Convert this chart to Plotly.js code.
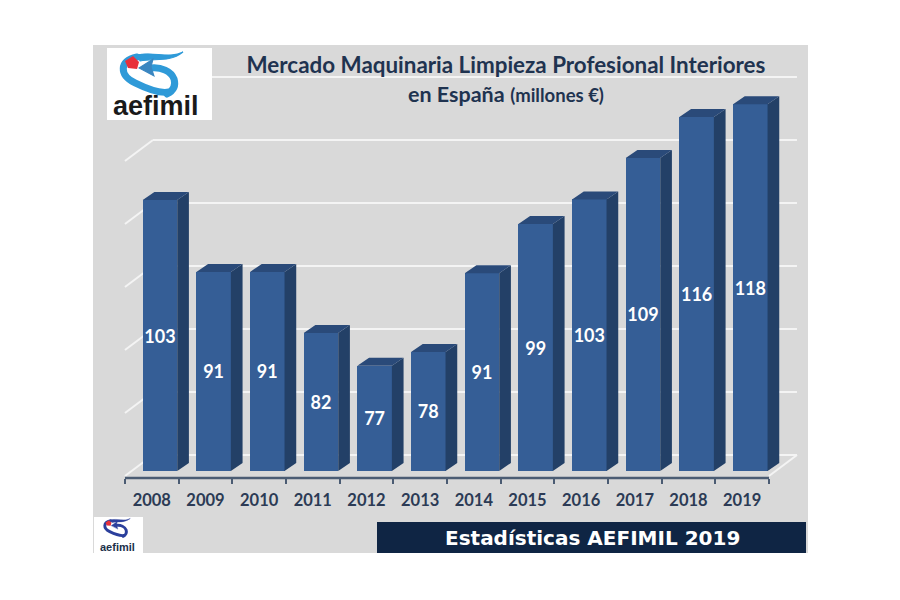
<!DOCTYPE html>
<html>
<head>
<meta charset="utf-8">
<script src="https://cdn.plot.ly/plotly-3.0.1.min.js"></script>
<style>html,body{margin:0;padding:0;background:#fff}#c{width:900px;height:600px}</style>
</head>
<body>
<div id="c"></div>
<script>
var years = ['2008','2009','2010','2011','2012','2013','2014','2015','2016','2017','2018','2019'];
var valueLabels = [103,91,91,82,77,78,91,99,103,109,116,118];
var barHeights = [103,91.6,91.6,81.9,76.7,78.9,91.4,99.2,103.1,109.7,116.2,118.2];
var gridValues = [60,70,80,90,100,110,120];
var leftWallValues = [60,70,80,90,100,110];

var titleLine1 = 'Mercado Maquinaria Limpieza Profesional Interiores';
var titleLine2 = 'en España';
var titleUnit = '(millones €)';
var footerText = 'Estadísticas AEFIMIL 2019';
var logoText = 'aefimil';

// axis scale
var pxPerCat = 53.67, pxPerUnit = 6.3;
var xRange = [-1.0956, 12.227], yRange = [44.44, 125.08];
var baseValue = 60;
var frontDrop = 16 / pxPerUnit;      // front plane sits below back wall
var depthX = 11.7 / pxPerCat, depthY = 8 / pxPerUnit;
var wallX = 28 / pxPerCat, wallY = 21 / pxPerUnit;
var barOffset = -9.1 / pxPerCat, barWidth = 34.5 / pxPerCat;
var axisValue = 60 - 23 / pxPerUnit;
var wallLeft = -0.5 + wallX, wallRight = 11.5 + wallX;

var xs = years.map(function (_, i) { return i; });

// side and top faces, from the same values as the bars
var sideX = [], sideY = [], topX = [], topY = [];
barHeights.forEach(function (h, i) {
  var l = i + barOffset, r = l + barWidth;
  var t = h - frontDrop, b = baseValue - frontDrop;
  sideX.push(r, r + depthX, r + depthX, r, r, null);
  sideY.push(b, b + depthY, t + depthY, t, b, null);
  topX.push(l, l + depthX, r + depthX, r, l, null);
  topY.push(t, t + depthY, t + depthY, t, t, null);
});

var traces = [
  {
    type: 'bar', x: xs, y: barHeights.map(function (h) { return h - baseValue; }),
    base: baseValue - frontDrop, width: barWidth, offset: barOffset,
    marker: { color: '#355e96', line: { width: 0 } },
    text: valueLabels.map(String), textposition: 'inside', insidetextanchor: 'middle',
    textangle: 0, constraintext: 'none',
    insidetextfont: { family: 'Lato', size: 18, color: '#ffffff', weight: 700 },
    hoverinfo: 'skip', showlegend: false
  },
  {
    type: 'scatter', mode: 'lines', x: sideX, y: sideY, fill: 'toself',
    fillcolor: '#234067', line: { width: 0, color: '#234067' }, hoverinfo: 'skip', showlegend: false
  },
  {
    type: 'scatter', mode: 'lines', x: topX, y: topY, fill: 'toself',
    fillcolor: '#2a4a79', line: { width: 0, color: '#2a4a79' }, hoverinfo: 'skip', showlegend: false
  }
];

var shapes = [];
var wallLine = { color: '#f4f4f4', width: 2 };
gridValues.forEach(function (v) {
  shapes.push({ type: 'line', layer: 'below', xref: 'x', yref: 'y', x0: wallLeft, x1: wallRight, y0: v, y1: v, line: wallLine });
});
leftWallValues.forEach(function (v) {
  shapes.push({ type: 'line', layer: 'below', xref: 'x', yref: 'y', x0: -0.5, x1: wallLeft, y0: v - wallY, y1: v, line: wallLine });
});
shapes.push({ type: 'line', layer: 'below', xref: 'x', yref: 'y', x0: 11.5, x1: wallRight, y0: baseValue - wallY, y1: baseValue, line: wallLine });
// axis line
shapes.push({ type: 'line', layer: 'above', xref: 'x', yref: 'y', x0: -0.5, x1: 11.5, y0: axisValue, y1: axisValue, line: { color: '#4b5c73', width: 2.5 } });
// footer band (paper fractions of the panel)
shapes.push({ type: 'rect', layer: 'above', xref: 'paper', yref: 'paper', x0: 0.3972, x1: 0.9972, y0: 0, y1: 0.061, fillcolor: '#0f2544', line: { width: 0 } });

// logos
function logoSvg(w, h, blue, arrow, scale, ox, oy) {
  var s = '<svg xmlns="http://www.w3.org/2000/svg" width="' + w + '" height="' + h + '" viewBox="0 0 ' + w + ' ' + h + '">' +
    '<rect width="' + w + '" height="' + h + '" fill="#fff"/>' +
    '<g transform="translate(' + ox + ' ' + oy + ') scale(' + scale + ')" fill="none" stroke-linecap="round">' +
    '<path d="M76 4 C62 11 46 3 30 7 L33 13 C48 10 62 15 76 4 Z" fill="' + blue + '" stroke="' + blue + '" stroke-width="1"/>' +
    '<path d="M30 9 C12 13 12 27 28 35 C40 41 52 46 62 44" stroke="' + blue + '" stroke-width="7"/>' +
    '<path d="M44 20 C54 19 64 23 67 31 C69 38 66 43 60 46" stroke="' + blue + '" stroke-width="7"/>' +
    '<path d="M32 20 L46 11 L44 19 L47 28 Z" fill="' + arrow + '" stroke="' + arrow + '" stroke-width="1"/>' +
    '<path d="M18 13 L26 8 L32 14 L30 21 L21 20 Z" fill="#e8303a" stroke="none"/>' +
    '</g></svg>';
  return 'data:image/svg+xml;charset=utf-8,' + encodeURIComponent(s);
}
var images = [
  { source: logoSvg(105, 72, '#2f9ad8', '#3a86c0', 1, 0, 0), xref: 'paper', yref: 'paper', x: 0.0196, y: 0.9941, sizex: 0.1469, sizey: 0.1417, xanchor: 'left', yanchor: 'top', layer: 'above', sizing: 'stretch' },
  { source: logoSvg(49, 36, '#2b3f9c', '#2b3f9c', 0.42, 4, 0), xref: 'paper', yref: 'paper', x: 0.0014, y: 0.0709, sizex: 0.0685, sizey: 0.0709, xanchor: 'left', yanchor: 'top', layer: 'above', sizing: 'stretch' }
];

var annotations = [
  { xref: 'paper', yref: 'paper', x: 0.577, y: 0.9035, xanchor: 'center', yanchor: 'middle', showarrow: false,
    text: '<b>' + titleLine2 + '</b> <span style="font-size:18.5px"><b>' + titleUnit + '</b></span>',
    font: { family: 'Lato', size: 21.5, color: '#1f3350' } },
  { xref: 'paper', yref: 'paper', x: 0.698, y: 0.0305, xanchor: 'center', yanchor: 'middle', showarrow: false,
    text: '<b>' + footerText + '</b>', font: { family: 'DejaVu Sans', size: 20, color: '#ffffff' } },
  { xref: 'paper', yref: 'paper', x: 0.0885, y: 0.8795, xanchor: 'center', yanchor: 'middle', showarrow: false,
    text: '<b>' + logoText + '</b>', font: { family: 'Liberation Sans', size: 27, color: '#1a1a1a' } },
  { xref: 'paper', yref: 'paper', x: 0.0336, y: 0.0118, xanchor: 'center', yanchor: 'middle', showarrow: false,
    text: '<b>' + logoText + '</b>', font: { family: 'Liberation Sans', size: 11, color: '#20304a' } }
];

var layout = {
  width: 900, height: 600,
  margin: { l: 93, r: 92, t: 45, b: 47, pad: 0 },
  paper_bgcolor: '#ffffff', plot_bgcolor: '#d9d9d9',
  showlegend: false, hovermode: false, bargap: 0,
  title: { text: '<b>' + titleLine1 + '</b>', x: 0.5622, xanchor: 'center', y: 0.891, yanchor: 'middle',
           font: { family: 'Lato', size: 22.4, color: '#1f3350' } },
  xaxis: {
    type: 'linear', range: xRange, anchor: 'free', position: 0.1476, fixedrange: true,
    showgrid: false, zeroline: false, showline: false,
    tickmode: 'array', tickvals: xs, ticktext: years,
    ticks: 'outside', ticklen: 7, tickcolor: 'rgba(0,0,0,0)', tickwidth: 1,
    tickfont: { family: 'Lato', size: 16.5, color: '#2c3b55', weight: 700 },
    minor: { tickmode: 'array', tickvals: years.map(function (_, i) { return i - 0.5; }).concat([11.5]),
             ticks: 'outside', ticklen: 5, tickcolor: '#4b5c73', tickwidth: 2, showgrid: false }
  },
  yaxis: { range: yRange, visible: false, fixedrange: true },
  shapes: shapes, images: images, annotations: annotations
};

Plotly.newPlot('c', traces, layout, { displayModeBar: false, staticPlot: true });
</script>
</body>
</html>
